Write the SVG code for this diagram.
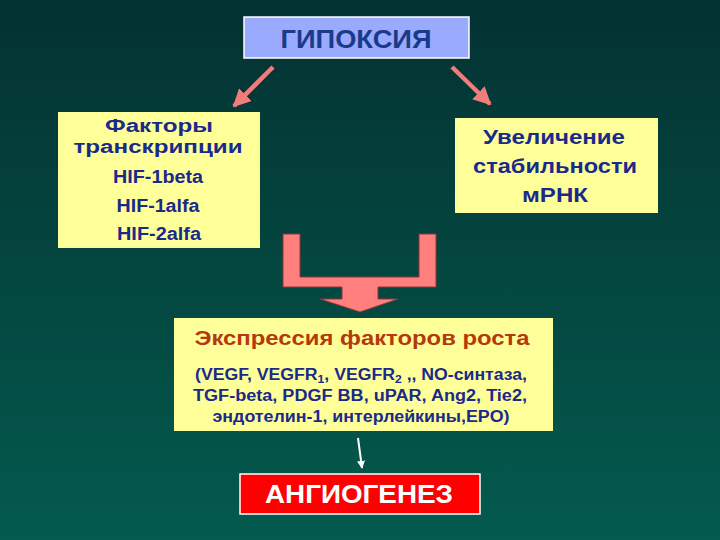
<svg xmlns="http://www.w3.org/2000/svg" width="720" height="540" viewBox="0 0 720 540">
<defs>
<linearGradient id="bg" x1="0" y1="0" x2="0" y2="1">
<stop offset="0" stop-color="#033232"/>
<stop offset="1" stop-color="#045a4e"/>
</linearGradient>
<marker id="pink" viewBox="0 0 10 10" refX="9" refY="5" markerWidth="4" markerHeight="4" orient="auto" markerUnits="strokeWidth">
<path d="M0,0 L10,5 L0,10 z" fill="#f07c7c"/>
</marker>
<marker id="white" viewBox="0 0 10 10" refX="9" refY="5" markerWidth="4" markerHeight="4" orient="auto" markerUnits="strokeWidth">
<path d="M0,0 L10,5 L0,10 z" fill="#ffffff"/>
</marker>
</defs>
<style>
text{font-family:"Liberation Sans",Arial,sans-serif;font-weight:bold;text-anchor:middle}
.yel{fill:#ffff99}
.blue{fill:#1a2a8a}
.big{font-size:21px}
.tight{font-size:18px}
.med{font-size:18px}
.sm{font-size:16px}
</style>
<rect width="720" height="540" fill="url(#bg)"/>
<g id="connectors">
<line x1="273" y1="67" x2="234" y2="106" stroke="#f07c7c" stroke-width="4.5" marker-end="url(#pink)"/>
<line x1="452" y1="67" x2="490" y2="104" stroke="#f07c7c" stroke-width="4.5" marker-end="url(#pink)"/>
<path d="M283,234 H300 V277 H419 V234 H436 V287 H378 V299 H398 L360,312 L320,299 H342 V287 H283 Z" fill="#ff7f7f" stroke="#8a3a3a" stroke-width="1"/>
<line x1="358" y1="438" x2="362" y2="468" stroke="#ffffff" stroke-width="2" marker-end="url(#white)"/>
</g>
<g id="hypoxia">
<rect x="244" y="17" width="225" height="41" fill="#99aaff" stroke="#ffffff" stroke-width="1.5"/>
<text x="356" y="48" style="font-size:26px" fill="#1a3a8a" textLength="151" lengthAdjust="spacingAndGlyphs">ГИПОКСИЯ</text>
</g>
<g id="factors">
<rect x="58" y="112" width="202" height="136" class="yel"/>
<text x="159" y="132" class="tight blue" textLength="108" lengthAdjust="spacingAndGlyphs">Факторы</text>
<text x="158" y="153" class="tight blue" textLength="169" lengthAdjust="spacingAndGlyphs">транскрипции</text>
<text x="158" y="183" class="med blue" textLength="90" lengthAdjust="spacingAndGlyphs">HIF-1beta</text>
<text x="158" y="212" class="med blue" textLength="83" lengthAdjust="spacingAndGlyphs">HIF-1alfa</text>
<text x="159" y="240" class="med blue" textLength="84" lengthAdjust="spacingAndGlyphs">HIF-2alfa</text>
</g>
<g id="stability">
<rect x="455" y="118" width="203" height="95" class="yel"/>
<text x="554" y="144" class="big blue" textLength="142" lengthAdjust="spacingAndGlyphs">Увеличение</text>
<text x="555" y="173" class="big blue" textLength="164" lengthAdjust="spacingAndGlyphs">стабильности</text>
<text x="555" y="202" class="big blue" textLength="66" lengthAdjust="spacingAndGlyphs">мРНК</text>
</g>
<g id="expression">
<rect x="174" y="318" width="379" height="113" class="yel"/>
<text x="362" y="345" class="big" fill="#b5380f" textLength="335" lengthAdjust="spacingAndGlyphs">Экспрессия факторов роста</text>
<text x="361" y="380" class="sm blue" textLength="332" lengthAdjust="spacingAndGlyphs">(VEGF, VEGFR<tspan font-size="11" dy="3">1</tspan><tspan dy="-3">, VEGFR</tspan><tspan font-size="11" dy="3">2</tspan><tspan dy="-3"> ,, NO-синтаза,</tspan></text>
<text x="360" y="401" class="sm blue" textLength="334" lengthAdjust="spacingAndGlyphs">TGF-beta, PDGF BB, uPAR, Ang2, Tie2,</text>
<text x="361" y="422" class="sm blue" textLength="297" lengthAdjust="spacingAndGlyphs">эндотелин-1, интерлейкины,EPO)</text>
</g>
<g id="angiogenesis">
<rect x="240" y="474" width="240" height="40" fill="#ff0000" stroke="#ffffff" stroke-width="1.5"/>
<text x="359" y="503" style="font-size:25px" fill="#ffffff" textLength="188" lengthAdjust="spacingAndGlyphs">АНГИОГЕНЕЗ</text>
</g>
</svg>
